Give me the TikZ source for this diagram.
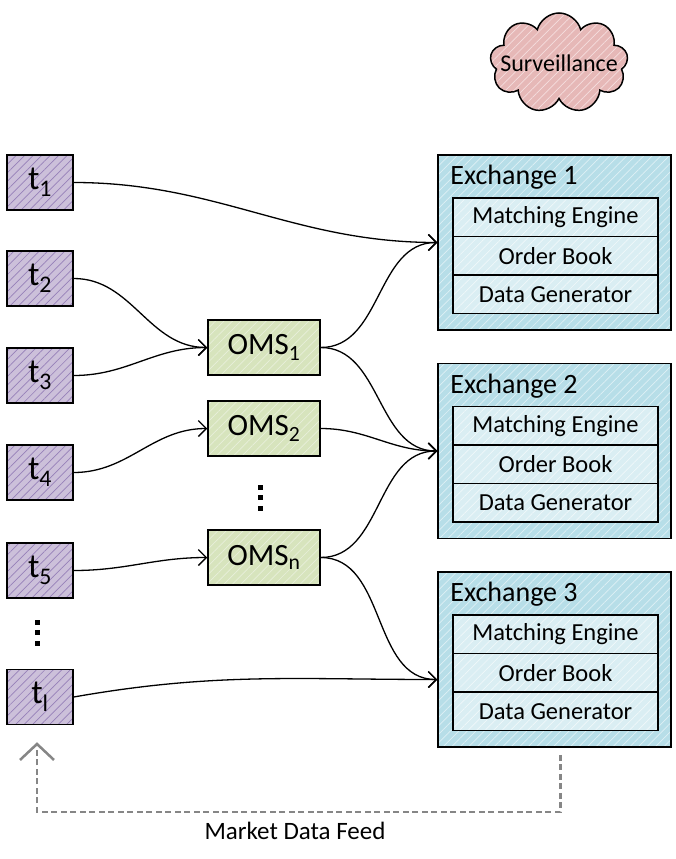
\documentclass[tikz,border=0pt]{standalone}
\usepackage{fontspec}
\setmainfont{Carlito}
\usetikzlibrary{arrows.meta, positioning, shapes.symbols, patterns.meta}
\definecolor{TraderPurple}{RGB}{204, 192, 218}
\definecolor{TraderLine}{RGB}{150, 128, 184}
\definecolor{OmsGreen}{RGB}{215, 228, 189}
\definecolor{OmsLine}{RGB}{232, 240, 218}
\definecolor{ExchBlue}{RGB}{183, 222, 232}
\definecolor{ExchLine}{RGB}{222, 240, 245}
\definecolor{PartBlue}{RGB}{218, 238, 243}
\definecolor{PartLine}{RGB}{240, 248, 250}
\definecolor{SurvPink}{RGB}{230, 184, 183}
\definecolor{SurvLine}{RGB}{245, 222, 222}
\definecolor{FeedGray}{RGB}{134, 134, 134}

\tikzset{
  hatch/.style 2 args={preaction={fill=#1}, pattern={Lines[angle=45, distance=6pt, line width=0.7pt]}, pattern color=#2},
  trader/.style={draw, line width=1.5pt, hatch={TraderPurple}{TraderLine}, minimum width=66pt, minimum height=55pt, inner sep=0pt, font=\fontsize{34}{38}\selectfont},
  oms/.style={draw, line width=1.5pt, hatch={OmsGreen}{OmsLine}, minimum width=112pt, minimum height=55pt, inner sep=0pt, font=\fontsize{31}{35}\selectfont},
  exch/.style={draw, line width=1.5pt, hatch={ExchBlue}{ExchLine}, minimum width=233pt, minimum height=175pt, inner sep=0pt},
  part/.style={draw, line width=1.5pt, hatch={PartBlue}{PartLine}, minimum width=205pt, minimum height=38.5pt, inner sep=0pt, outer sep=0pt, font=\fontsize{24.5}{28}\selectfont},
  vdot/.style={fill, minimum size=5pt, inner sep=0pt},
  link/.style={line width=1.3pt, -{Straight Barb[length=8pt, width=16pt, line width=1.3pt]}},
  feed/.style={line width=2.5pt, FeedGray, dash pattern=on 6pt off 3.5pt},
  feedtip/.style={line width=2.5pt, FeedGray, -{Straight Barb[length=16pt, width=34pt, line width=2.5pt]}}
}

\begin{document}
\begin{tikzpicture}[x=1pt, y=-1pt]
  \useasboundingbox (0,0) rectangle (675,859);

  % traders
  \node[trader] (t1) at (40,182.5) {t\textsubscript{1}};
  \node[trader] (t2) at (40,278.5) {t\textsubscript{2}};
  \node[trader] (t3) at (40,375.5) {t\textsubscript{3}};
  \node[trader] (t4) at (40,472.5) {t\textsubscript{4}};
  \node[trader] (t5) at (40,570.5) {t\textsubscript{5}};
  \node[trader] (tl) at (40,697) {t\textsubscript{l}};
  \foreach \y in {622, 632.5, 643} \node[vdot] at (37,\y) {};

  % order management systems
  \node[oms] (oms1) at (264,347.5) {OMS\textsubscript{1}};
  \node[oms] (oms2) at (264,428.5) {OMS\textsubscript{2}};
  \node[oms] (omsn) at (264,557.5) {OMS\textsubscript{n}};
  \foreach \y in {487, 497.5, 508} \node[vdot] at (260,\y) {};

  % exchanges
  \foreach \i/\y in {1/242.5, 2/451, 3/659.5} {
    \node[exch] (ex\i) at (554.5,\y) {};
    \node[anchor=west, inner sep=0pt, font=\fontsize{28}{32}\selectfont] (title\i) at ([xshift=13pt, yshift=-23pt]ex\i.north west) {Exchange \i};
    \node[part] (me\i) at ([xshift=1pt, yshift=-63pt]ex\i.north) {Matching Engine};
    \node[part, below=0pt of me\i] (ob\i) {Order Book};
    \node[part, below=0pt of ob\i] (dg\i) {Data Generator};
  }
  \coordinate (ex3in) at ([yshift=-20pt]ex3.west);

  % surveillance
  \node[cloud, cloud puffs=9, aspect=1.4, draw, line width=1.5pt, hatch={SurvPink}{SurvLine}, minimum width=138pt, minimum height=100pt, inner sep=0pt] (surv) at (559,63) {};
  \node[font=\fontsize{24}{28}\selectfont] (survtext) at (surv.center) {Surveillance};

  % orders
  \draw[link] (t1.east) to[out=0, in=180] (ex1.west);
  \draw[link] (t2.east) to[out=0, in=180] (oms1.west);
  \draw[link] (t3.east) to[out=0, in=180] (oms1.west);
  \draw[link] (t4.east) to[out=0, in=180] (oms2.west);
  \draw[link] (t5.east) to[out=0, in=180] (omsn.west);
  \draw[link] (tl.east) to[out=10, in=180] (ex3in);
  \draw[link] (oms1.east) to[out=0, in=180] (ex1.west);
  \draw[link] (oms1.east) to[out=0, in=180] (ex2.west);
  \draw[link] (oms2.east) to[out=0, in=180] (ex2.west);
  \draw[link] (omsn.east) to[out=0, in=180] (ex2.west);
  \draw[link] (omsn.east) to[out=0, in=180] (ex3in);

  % market data
  \coordinate (feedend) at ([xshift=-3pt, yshift=-17pt]tl.south);
  \draw[feed] ([xshift=6pt, yshift=-7pt]ex3.south) -- ++(0,57) -| ([yshift=-4pt]feedend);
  \draw[feedtip] ([yshift=-4pt]feedend) -- (feedend);
  \node[font=\fontsize{25}{29}\selectfont] (mdf) at (295,831) {Market Data Feed};
\end{tikzpicture}
\end{document}
